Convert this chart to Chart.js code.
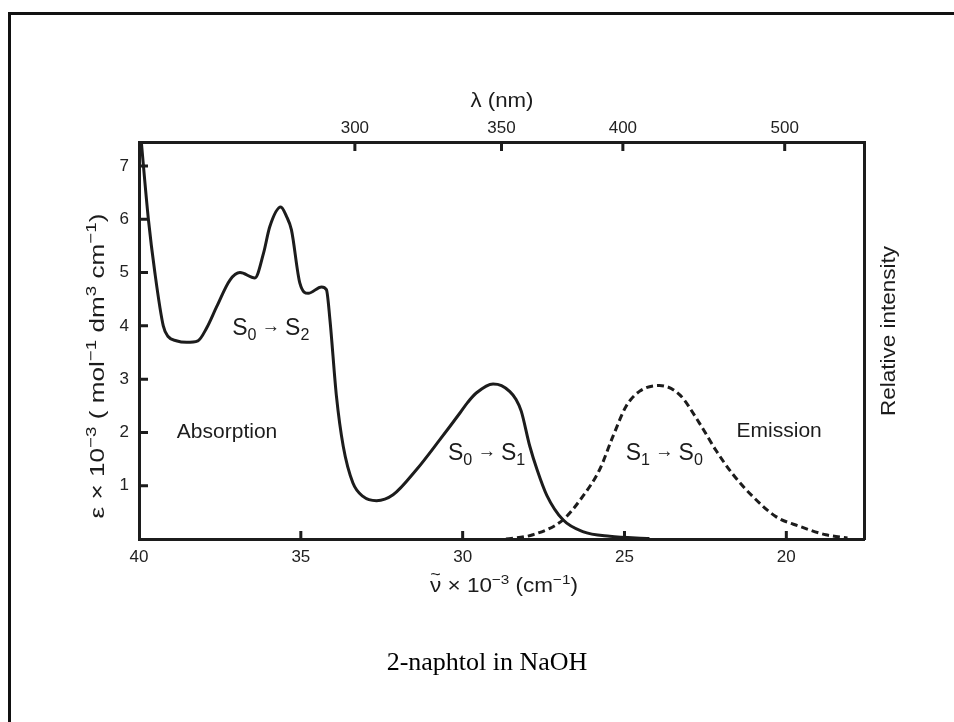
<!DOCTYPE html>
<html>
<head>
<meta charset="utf-8">
<title>2-naphtol in NaOH</title>
<script src="https://cdn.jsdelivr.net/npm/chart.js@4.4.1/dist/chart.umd.min.js"></script>
<style>
  body { margin: 0; background: #fff; }
  #wrap { position: relative; width: 954px; height: 722px; }
  #frame { position: absolute; left: 8px; top: 12px; right: 0; bottom: 0;
           border-left: 3px solid #111; border-top: 3px solid #111; pointer-events: none; }
</style>
</head>
<body>
<div id="wrap">
  <canvas id="myChart" width="954" height="722"></canvas>
  <div id="frame"></div>
</div>
<script>
// wavenumber in 10^3 cm-1
var absNu  = [39.95, 39.71, 39.51, 39.25, 39.1, 38.85, 38.53, 38.18, 37.91, 37.6, 37.19, 36.88, 36.42, 36.15, 35.96, 35.62, 35.44, 35.29, 35.03, 34.77, 34.36, 34.21, 34.1, 33.9, 33.69, 33.39, 33.08, 32.66, 32.15, 31.43, 30.71, 30.09, 29.85, 29.58, 29.06, 28.8, 28.55, 28.35, 28.19, 27.93, 27.7, 27.4, 26.9, 26.29, 25.46, 24.23];
var absEps = [7.6, 6.0, 5.0, 4.0, 3.8, 3.72, 3.69, 3.72, 3.96, 4.36, 4.86, 5.0, 4.9, 5.37, 5.86, 6.23, 6.05, 5.8, 4.8, 4.61, 4.73, 4.68, 4.11, 2.68, 1.74, 1.05, 0.8, 0.72, 0.83, 1.3, 1.86, 2.36, 2.56, 2.74, 2.91, 2.88, 2.77, 2.62, 2.4, 1.75, 1.3, 0.82, 0.36, 0.14, 0.05, 0.01];
var emNu   = [28.66, 27.83, 26.9, 26.29, 25.77, 25.36, 24.95, 24.54, 23.92, 23.3, 22.69, 22.17, 21.66, 21.04, 20.32, 19.6, 18.78, 18.11];
var emInt  = [0, 0.08, 0.36, 0.8, 1.3, 1.92, 2.49, 2.77, 2.88, 2.71, 2.18, 1.66, 1.22, 0.8, 0.42, 0.24, 0.08, 0.02];

var nuTicks   = [40, 35, 30, 25, 20];
var epsTicks  = [1, 2, 3, 4, 5, 6, 7];
var lamTicks  = [300, 350, 400, 500];
var lamTickNu = [33.33, 28.8, 25.05, 20.05];   // where the nm ticks sit on the wavenumber scale

var SANS = '"Liberation Sans", Arial, sans-serif';
var INK = '#1c1c1c';

function pts(xs, ys) {
  return xs.map(function(x, i) { return {x: x, y: ys[i]}; });
}

// text made of pieces: [text, size factor, baseline shift factor, overlay?]
// an overlay piece is centred over the previous piece and does not advance
function rich(ctx, parts, x, y, size, align, width) {
  var w = 0;
  parts.forEach(function(p) {
    if (p[3]) return;
    ctx.font = (size * p[1]) + 'px ' + SANS;
    w += ctx.measureText(p[0]).width;
  });
  var k = width ? width / w : 1;
  ctx.save();
  ctx.translate(x, y);
  ctx.scale(k, 1);
  var cx = align === 'center' ? -w / 2 : 0, last = 0;
  parts.forEach(function(p) {
    ctx.font = (size * p[1]) + 'px ' + SANS;
    var pw = ctx.measureText(p[0]).width;
    if (p[3]) {
      ctx.fillText(p[0], cx - last / 2 - pw / 2, size * p[2]);
      return;
    }
    ctx.fillText(p[0], cx, size * p[2]);
    cx += pw;
    last = pw;
  });
  ctx.restore();
}

var yTitle = [['\u03b5 \u00d7 10', 1, 0], ['\u22123', 0.72, -0.4], [' ( mol', 1, 0], ['\u22121', 0.72, -0.4],
              [' dm', 1, 0], ['3', 0.72, -0.4], [' cm', 1, 0], ['\u22121', 0.72, -0.4], [')', 1, 0]];
var xTitle = [['\u03bd', 1, 0], ['~', 0.8, -0.62, true], [' \u00d7 10', 1, 0], ['\u22123', 0.68, -0.4],
              [' (cm', 1, 0], ['\u22121', 0.68, -0.4], [')', 1, 0]];

function trans(a, b, c, d) {
  return [[a, 1, 0], [b, 0.7, 0.22], [' \u2192 ', 0.8, -0.12], [c, 1, 0], [d, 0.7, 0.22]];
}
var notes = [
  {parts: trans('S', '0', 'S', '2'), nu: 35.93, eps: 3.83, size: 23},
  {parts: [['Absorption', 1, 0]], nu: 37.28, eps: 1.9, size: 21},
  {parts: trans('S', '0', 'S', '1'), nu: 29.26, eps: 1.49, size: 23},
  {parts: trans('S', '1', 'S', '0'), nu: 23.77, eps: 1.49, size: 23},
  {parts: [['Emission', 1, 0]], nu: 20.22, eps: 1.92, size: 21}
];

var extras = {
  id: 'extras',
  afterDraw: function(chart) {
    var ctx = chart.ctx, a = chart.chartArea;
    var sx = chart.scales.x, st = chart.scales.x2, sy = chart.scales.y;
    ctx.save();
    // inward tick marks
    ctx.strokeStyle = INK;
    ctx.lineWidth = 3;
    ctx.beginPath();
    nuTicks.forEach(function(v) {
      if (v === 40) return;
      var px = sx.getPixelForValue(v);
      ctx.moveTo(px, a.bottom); ctx.lineTo(px, a.bottom - 8);
    });
    lamTickNu.forEach(function(v) {
      var px = st.getPixelForValue(v);
      ctx.moveTo(px, a.top); ctx.lineTo(px, a.top + 9);
    });
    epsTicks.forEach(function(v) {
      var py = sy.getPixelForValue(v);
      ctx.moveTo(a.left, py); ctx.lineTo(a.left + 9, py);
    });
    ctx.stroke();

    ctx.fillStyle = INK;
    ctx.textBaseline = 'alphabetic';
    ctx.textAlign = 'left';
    // annotations inside the plot
    notes.forEach(function(n) {
      rich(ctx, n.parts, sx.getPixelForValue(n.nu), sy.getPixelForValue(n.eps), n.size, 'center');
    });
    // axis titles
    rich(ctx, [['\u03bb (nm)', 1, 0]], 502, 107, 20, 'center', 63);
    rich(ctx, xTitle, 504, 592, 20, 'center', 148);
    ctx.save();
    ctx.translate(97, 366);
    ctx.rotate(-Math.PI / 2);
    rich(ctx, yTitle, 0, 7, 21, 'center', 305);
    ctx.restore();
    ctx.save();
    ctx.translate(888, 331);
    ctx.rotate(-Math.PI / 2);
    rich(ctx, [['Relative intensity', 1, 0]], 0, 7, 20, 'center', 170);
    ctx.restore();
    // caption
    ctx.font = '26px "Liberation Serif", "Times New Roman", serif';
    ctx.textAlign = 'center';
    ctx.fillStyle = '#000';
    ctx.fillText('2-naphtol in NaOH', 487, 670);
    ctx.restore();
  }
};

var tickFont = {family: SANS, size: 17};
var axisBorder = {display: true, color: INK, width: 3};

var ctx = document.getElementById('myChart').getContext('2d');
var myChart = new Chart(ctx, {
  type: 'line',
  data: {
    datasets: [
      {
        label: 'Absorption',
        data: pts(absNu, absEps),
        borderColor: INK,
        borderWidth: 3,
        pointRadius: 0,
        cubicInterpolationMode: 'monotone',
        fill: false
      },
      {
        label: 'Emission',
        data: pts(emNu, emInt),
        borderColor: INK,
        borderWidth: 3,
        borderDash: [7, 4],
        pointRadius: 0,
        cubicInterpolationMode: 'monotone',
        fill: false
      }
    ]
  },
  options: {
    responsive: false,
    animation: false,
    layout: {padding: 0},
    plugins: {legend: {display: false}, tooltip: {enabled: false}},
    scales: {
      x: {
        type: 'linear', position: 'bottom', reverse: true, min: 17.6, max: 40,
        grid: {display: false, drawTicks: false},
        border: axisBorder,
        afterBuildTicks: function(s) { s.ticks = nuTicks.map(function(v) { return {value: v}; }); },
        afterFit: function(s) { s.height = 183; },
        ticks: {font: tickFont, color: '#222', padding: 8, maxRotation: 0, autoSkip: false}
      },
      x2: {
        type: 'linear', position: 'top', reverse: true, min: 17.6, max: 40,
        grid: {display: false, drawTicks: false},
        border: axisBorder,
        afterBuildTicks: function(s) { s.ticks = lamTickNu.map(function(v) { return {value: v}; }); },
        afterFit: function(s) { s.height = 142; },
        ticks: {font: tickFont, color: '#222', padding: 3, maxRotation: 0, autoSkip: false,
                callback: function(v, i) { return lamTicks[i]; }}
      },
      y: {
        type: 'linear', position: 'left', min: 0, max: 7.45,
        grid: {display: false, drawTicks: false},
        border: axisBorder,
        afterBuildTicks: function(s) { s.ticks = epsTicks.map(function(v) { return {value: v}; }); },
        afterFit: function(s) { s.width = 139; },
        ticks: {font: tickFont, color: '#222', padding: 10, autoSkip: false}
      },
      y2: {
        type: 'linear', position: 'right', min: 0, max: 7.45,
        grid: {display: false, drawTicks: false},
        border: axisBorder,
        afterFit: function(s) { s.width = 90; },
        ticks: {display: false}
      }
    }
  },
  plugins: [extras]
});
</script>
</body>
</html>
